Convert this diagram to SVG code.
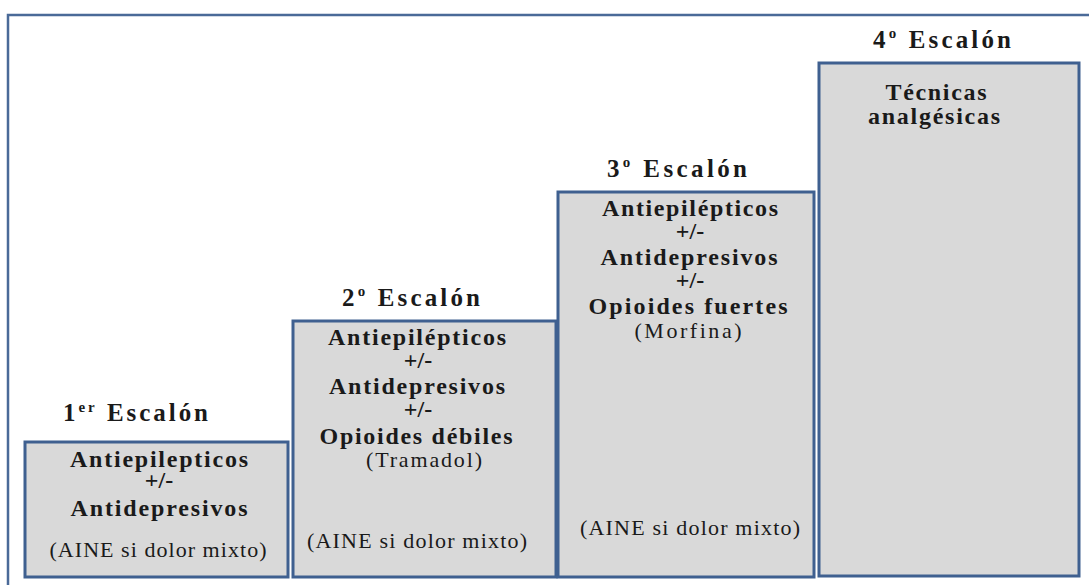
<svg xmlns="http://www.w3.org/2000/svg" width="1089" height="585" viewBox="0 0 1089 585">
<style>
.box{fill:#d9d9d9;stroke:#3f6090;stroke-width:3}
.frame{fill:none;stroke:#4a6a98;stroke-width:2.5}
text{font-family:'Liberation Serif','Times New Roman','DejaVu Serif',serif;fill:#1a1a1a;font-size:22px}
.b{font-weight:bold;text-anchor:middle;font-size:24px}
.r{text-anchor:middle;font-size:22px}
.t{font-weight:bold;font-size:25px}
</style>
<rect width="1089" height="585" fill="#ffffff"/>
<rect class="frame" x="8" y="15" width="1110" height="600"/>
<g id="step1" font-family="Liberation Serif, serif">
<rect class="box" x="25" y="442" width="263" height="135"/>
<text class="t" x="63" y="421" textLength="145">1<tspan font-size="15" dy="-9">er</tspan><tspan dy="9"> Escalón</tspan></text>
<text class="b" x="159" y="467" textLength="178">Antiepilepticos</text>
<text class="b" x="159" y="488">+/-</text>
<text class="b" x="159" y="516" textLength="177">Antidepresivos</text>
<text class="r" x="158" y="557" textLength="217">(AINE si dolor mixto)</text>
</g>
<g id="step2" font-family="Liberation Serif, serif">
<rect class="box" x="293" y="321" width="263" height="256"/>
<text class="t" x="342" y="306" textLength="138">2<tspan font-size="15" dy="-10">o</tspan><tspan dy="10"> Escalón</tspan></text>
<text class="b" x="417" y="345" textLength="178">Antiepilépticos</text>
<text class="b" x="418" y="368">+/-</text>
<text class="b" x="417" y="394" textLength="176">Antidepresivos</text>
<text class="b" x="418" y="417">+/-</text>
<text class="b" x="416" y="444" textLength="193">Opioides débiles</text>
<text class="r" x="424" y="467" textLength="116">(Tramadol)</text>
<text class="r" x="417" y="548" textLength="220">(AINE si dolor mixto)</text>
</g>
<g id="step3" font-family="Liberation Serif, serif">
<rect class="box" x="558" y="192" width="256" height="385"/>
<text class="t" x="607" y="177" textLength="140">3<tspan font-size="15" dy="-10">o</tspan><tspan dy="10"> Escalón</tspan></text>
<text class="b" x="690" y="216" textLength="176">Antiepilépticos</text>
<text class="b" x="690" y="239">+/-</text>
<text class="b" x="689" y="265" textLength="177">Antidepresivos</text>
<text class="b" x="690" y="288">+/-</text>
<text class="b" x="688" y="314" textLength="199">Opioides fuertes</text>
<text class="r" x="688" y="338" textLength="107">(Morfina)</text>
<text class="r" x="690" y="535" textLength="220">(AINE si dolor mixto)</text>
</g>
<g id="step4" font-family="Liberation Serif, serif">
<rect class="box" x="819" y="63" width="260" height="513"/>
<text class="t" x="873" y="48" textLength="138">4<tspan font-size="15" dy="-10">o</tspan><tspan dy="10"> Escalón</tspan></text>
<text class="b" x="936" y="100" textLength="101">Técnicas</text>
<text class="b" x="934" y="124" textLength="132">analgésicas</text>
</g>
<g id="connectors"></g>
</svg>
